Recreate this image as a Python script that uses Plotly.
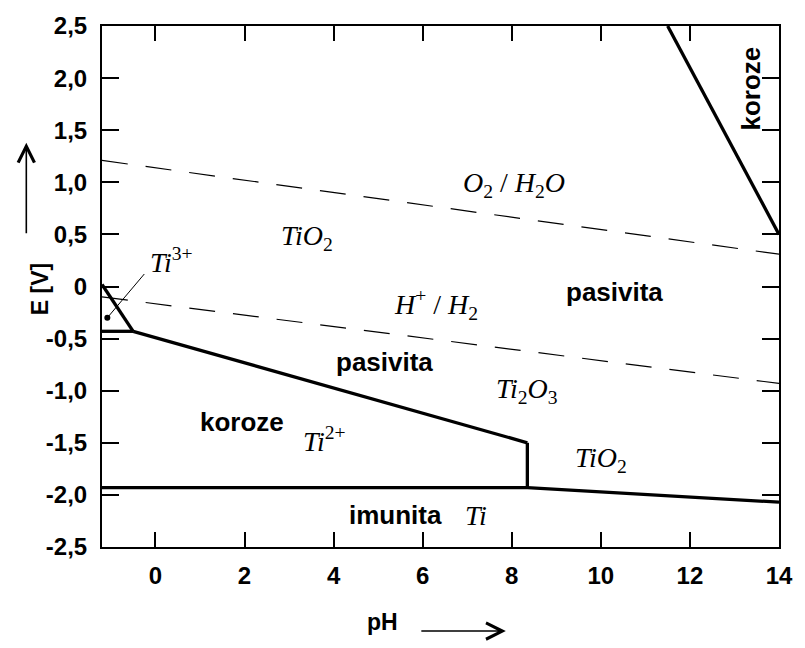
import plotly.graph_objects as go

# Phase boundaries of the Ti-H2O system: pH and potential E [V]
ti3_diag_ph = [-1.2, -0.5]
ti3_diag_e = [0.02, -0.43]
ti3_base_ph = [-1.2, -0.5]
ti3_base_e = [-0.43, -0.43]
ti2_top_ph = [-0.5, 8.35]
ti2_top_e = [-0.43, -1.5]
ti2_side_ph = [8.35, 8.35]
ti2_side_e = [-1.5, -1.93]
ti_imm_ph = [-1.2, 8.35, 14.0]
ti_imm_e = [-1.93, -1.93, -2.07]
tio2_corr_ph = [11.5, 14.0]
tio2_corr_e = [2.5, 0.5]

# Water stability limits (dashed)
o2_h2o_ph = [-1.2, 14.0]
o2_h2o_e = [1.21, 0.31]
h_h2_ph = [-1.2, 14.0]
h_h2_e = [-0.1, -0.93]

# Ti3+ pocket: marker point and its leader line
ti3_point_ph = [-1.08]
ti3_point_e = [-0.3]
ti3_leader_ph = [-1.08, -0.25]
ti3_leader_e = [-0.3, 0.12]

# Axis ticks
x_ticks = [0, 2, 4, 6, 8, 10, 12, 14]
x_tick_text = ["0", "2", "4", "6", "8", "10", "12", "14"]
y_ticks = [-2.5, -2.0, -1.5, -1.0, -0.5, 0.0, 0.5, 1.0, 1.5, 2.0, 2.5]
y_tick_text = ["-2,5", "-2,0", "-1,5", "-1,0", "-0,5", "0",
               "0,5", "1,0", "1,5", "2,0", "2,5"]

# Region names (bold sans)
region_text = ["pasivita", "pasivita", "koroze", "imunita", "koroze"]
region_ph = [10.3, 5.15, 1.95, 5.4, 13.35]
region_e = [-0.05, -0.72, -1.3, -2.19, 1.9]
region_angle = [0, 0, 0, 0, -90]

# Species / reaction labels (italic serif)
species_text = [
    "<i>TiO</i><sub>2</sub>",
    "<i>O</i><sub>2</sub> / <i>H</i><sub>2</sub><i>O</i>",
    "<i>H</i><sup>+</sup> / <i>H</i><sub>2</sub>",
    "<i>Ti</i><sub>2</sub><i>O</i><sub>3</sub>",
    "<i>Ti</i><sup>2+</sup>",
    "<i>TiO</i><sub>2</sub>",
    "<i>Ti</i>",
    "<i>Ti</i><sup>3+</sup>",
]
species_ph = [3.4, 8.05, 6.3, 8.35, 3.8, 10.0, 7.2, 0.37]
species_e = [0.47, 0.98, -0.17, -1.0, -1.47, -1.66, -2.2, 0.25]

fig = go.Figure()

solid = dict(color="black", width=3.3)
for xs, ys in [(ti3_diag_ph, ti3_diag_e), (ti3_base_ph, ti3_base_e),
               (ti2_top_ph, ti2_top_e), (ti2_side_ph, ti2_side_e),
               (ti_imm_ph, ti_imm_e), (tio2_corr_ph, tio2_corr_e)]:
    fig.add_trace(go.Scatter(x=xs, y=ys, mode="lines", line=solid,
                             hoverinfo="skip", showlegend=False))

dashed = dict(color="black", width=1.2, dash="26px,18px")
for xs, ys in [(o2_h2o_ph, o2_h2o_e), (h_h2_ph, h_h2_e)]:
    fig.add_trace(go.Scatter(x=xs, y=ys, mode="lines", line=dashed,
                             hoverinfo="skip", showlegend=False))

fig.add_trace(go.Scatter(x=ti3_leader_ph, y=ti3_leader_e, mode="lines",
                         line=dict(color="black", width=1),
                         hoverinfo="skip", showlegend=False))
fig.add_trace(go.Scatter(x=ti3_point_ph, y=ti3_point_e, mode="markers",
                         marker=dict(color="black", size=6),
                         hoverinfo="skip", showlegend=False))

sans = "Liberation Sans, Arial, sans-serif"
serif = "Liberation Serif, Times New Roman, serif"

annotations = []
for t, px, ey, ang in zip(region_text, region_ph, region_e, region_angle):
    annotations.append(dict(x=px, y=ey, xref="x", yref="y", text=t,
                            showarrow=False, textangle=ang,
                            font=dict(family=sans, size=26, color="black",
                                      weight="bold")))
for t, px, ey in zip(species_text, species_ph, species_e):
    annotations.append(dict(x=px, y=ey, xref="x", yref="y", text=t,
                            showarrow=False,
                            font=dict(family=serif, size=28, color="black")))

# Axis titles with arrows
annotations.append(dict(x=-0.1143, y=0.494, xref="paper", yref="paper",
                        text="E [V]", showarrow=False, textangle=-90,
                        font=dict(family=sans, size=23, color="black",
                                  weight="bold")))
annotations.append(dict(x=-0.1118, y=0.776, xref="paper", yref="paper",
                        text="", showarrow=True, ax=0, ay=92,
                        arrowhead=5, arrowsize=2, arrowwidth=1.6,
                        arrowcolor="black"))
annotations.append(dict(x=0.415, y=-0.172, xref="paper", yref="paper",
                        text="pH", showarrow=False,
                        font=dict(family=sans, size=23, color="black",
                                  weight="bold")))
annotations.append(dict(x=0.5965, y=-0.1613, xref="paper", yref="paper",
                        text="", showarrow=True, ax=-86, ay=0,
                        arrowhead=5, arrowsize=2, arrowwidth=1.6,
                        arrowcolor="black"))

axis_common = dict(showgrid=False, zeroline=False, showline=True,
                   linecolor="black", linewidth=2, mirror="ticks",
                   ticks="inside", tickcolor="black", tickwidth=1.5,
                   tickfont=dict(family=sans, size=24, color="black",
                                 weight="bold"))

fig.update_layout(
    width=805, height=648,
    margin=dict(l=102, r=14, t=20, b=101),
    paper_bgcolor="white", plot_bgcolor="white",
    xaxis=dict(range=[-1.2, 14.0], tickvals=x_ticks, ticktext=x_tick_text,
               ticklen=15, ticklabelstandoff=6, **axis_common),
    yaxis=dict(range=[-2.5, 2.5], tickvals=y_ticks, ticktext=y_tick_text,
               ticklen=17, ticklabelstandoff=8, **axis_common),
    annotations=annotations,
)

fig.write_html("out.html")
